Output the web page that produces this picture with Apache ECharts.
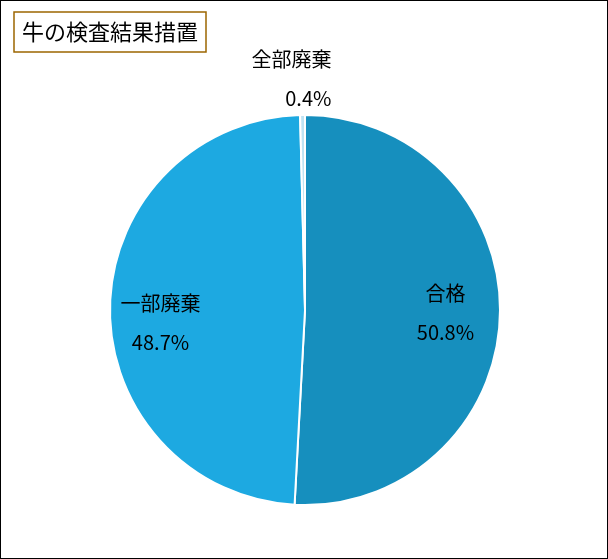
<!DOCTYPE html>
<html><head><meta charset="utf-8">
<script src="https://cdn.jsdelivr.net/npm/echarts@6/dist/echarts.min.js"></script>
<style>html,body{margin:0;padding:0}#c{width:608px;height:559px;box-sizing:border-box;border:1px solid #000}</style>
</head><body><div id="c"></div>
<script>
const categories=['合格','一部廃棄','全部廃棄'];
const values=[50.8,48.7,0.4];
const colors=['#168FBE','#1DA9E1','#BFE3F3'];
const title='牛の検査結果措置';
const chart=echarts.init(document.getElementById('c'));
const shifts=[[40,0],[-44,14],[34,-26]];
chart.setOption({
  animation:false,
  title:{text:title,left:13,top:11,padding:[9,8,9,8],borderColor:'#9C6500',borderWidth:1.5,
    textStyle:{fontFamily:'Noto Sans CJK JP',fontSize:22,fontWeight:'normal',color:'#000'}},
  series:[{type:'pie',center:[304,309],radius:195,startAngle:90,clockwise:true,
    itemStyle:{borderColor:'#fff',borderWidth:2},
    data:categories.map((n,i)=>({name:n,value:values[i],itemStyle:{color:colors[i]},
      label:{position:i<2?'inside':'outside'},labelLine:{show:false,length:10,length2:0}})),
    label:{formatter:p=>p.name+'\n'+p.value.toFixed(1)+'%',fontFamily:'Noto Sans CJK JP',fontSize:20,color:'#000',lineHeight:39,align:'center'},
    labelLayout:p=>({dx:shifts[p.dataIndex][0],dy:shifts[p.dataIndex][1]})
  }]
});
</script></body></html>
